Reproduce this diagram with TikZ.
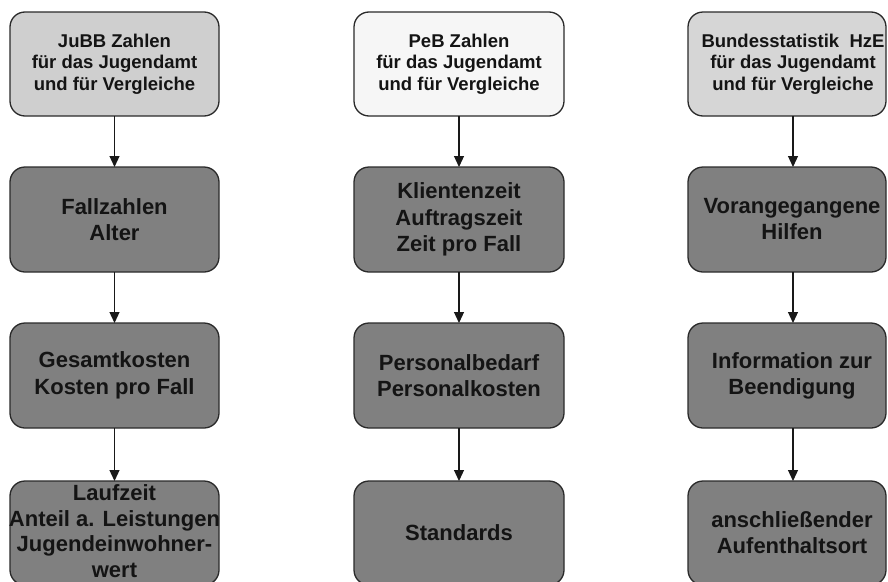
\documentclass[tikz,border=0pt]{standalone}
\usepackage{fontspec}
\setmainfont{Liberation Sans}
\usetikzlibrary{arrows.meta}
\definecolor{darkfill}{HTML}{808080}
\definecolor{topA}{HTML}{CFCFCF}
\definecolor{topB}{HTML}{F6F6F6}
\definecolor{topC}{HTML}{D6D6D6}
\definecolor{edge}{HTML}{2A2A2A}
\definecolor{ink}{HTML}{141414}
\tikzset{
  box/.style={draw=edge, line width=1.3pt, rounded corners=15pt, inner sep=0pt, outer sep=0pt, text=ink, align=center},
  topbox/.style={box, minimum height=104pt, font=\bfseries\fontsize{18.5}{21.7}\selectfont},
  darkbox/.style={box, fill=darkfill, minimum height=105pt, font=\bfseries\fontsize{22}{26.5}\selectfont},
  txt/.style={inner sep=0pt, text=ink, align=center, font=\bfseries\fontsize{22}{26}\selectfont},
  toptxt/.style={inner sep=0pt, text=ink, align=center, font=\bfseries\fontsize{18.5}{21.7}\selectfont},
  conn/.style={draw=black!90, line width=1.2pt, -{Triangle[width=10pt,length=11pt]}}
}
\begin{document}
\begin{tikzpicture}[x=1pt,y=-1pt]
\useasboundingbox (0,0) rectangle (888,581);
\clip (0,0) rectangle (888,581);
% column 1
\node[topbox, fill=topA, minimum width=209pt] (a1) at (114.5,64) {JuBB Zahlen\\für das Jugendamt\\und für Vergleiche};
\node[darkbox, minimum width=209pt] (a2) at (114.5,219.5) {Fallzahlen\\Alter};
\node[darkbox, minimum width=209pt] (a3) at (114.5,375.5) {Gesamtkosten\\Kosten pro Fall};
\node[darkbox, minimum width=209pt, minimum height=104pt] (a4) at (114.5,533) {};
\node[txt, font=\bfseries\fontsize{22}{25.5}\selectfont] (a4t) at ([yshift=2pt]a4.center) {Laufzeit\\Anteil a. Leistungen\\Jugendeinwohner-\\wert};
% column 2
\node[topbox, fill=topB, minimum width=210pt] (b1) at (459,64) {PeB Zahlen\\für das Jugendamt\\und für Vergleiche};
\node[darkbox, minimum width=210pt] (b2) at (459,219.5) {Klientenzeit\\Auftragszeit\\Zeit pro Fall};
\node[darkbox, minimum width=210pt] (b3) at (459,375.5) {Personalbedarf\\Personalkosten};
\node[darkbox, minimum width=210pt, minimum height=104pt] (b4) at (459,533) {Standards};
% column 3
\node[topbox, fill=topC, minimum width=198pt] (c1) at (787,64) {};
\node[toptxt] (c1t) at ([xshift=6pt]c1.center) {Bundesstatistik\ \ HzE\\für das Jugendamt\\und für Vergleiche};
\node[darkbox, minimum width=198pt] (c2) at (787,219.5) {};
\node[txt] (c2t) at ([xshift=5pt]c2.center) {Vorangegangene\\Hilfen};
\node[darkbox, minimum width=198pt] (c3) at (787,375.5) {};
\node[txt] (c3t) at ([xshift=5pt]c3.center) {Information zur\\Beendigung};
\node[darkbox, minimum width=198pt, minimum height=104pt] (c4) at (787,533) {};
\node[txt] (c4t) at ([xshift=5pt]c4.center) {anschließender\\Aufenthaltsort};
% connectors
\draw[conn] (a1.south) -- (a2.north);
\draw[conn] (a2.south) -- (a3.north);
\draw[conn] (a3.south) -- (a4.north);
\draw[conn] (b1.south) -- (b2.north);
\draw[conn] (b2.south) -- (b3.north);
\draw[conn] (b3.south) -- (b4.north);
\draw[conn] ([xshift=6pt]c1.south) -- ([xshift=6pt]c2.north);
\draw[conn] ([xshift=6pt]c2.south) -- ([xshift=6pt]c3.north);
\draw[conn] ([xshift=6pt]c3.south) -- ([xshift=6pt]c4.north);
\end{tikzpicture}
\end{document}
